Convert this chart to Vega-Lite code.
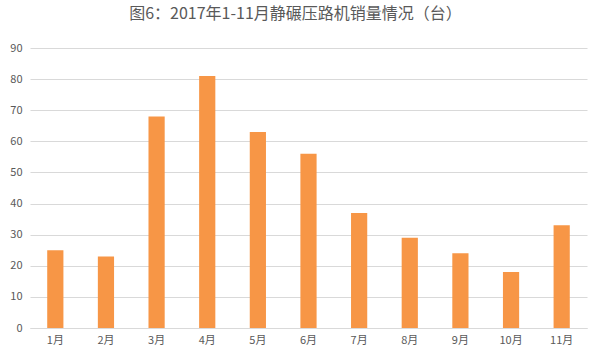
{
  "$schema": "https://vega.github.io/schema/vega-lite/v6.json",
  "autosize": "none",
  "width": 557,
  "height": 280,
  "padding": {"left": 30, "top": 48, "right": 13, "bottom": 32},
  "background": "white",
  "title": {
    "text": "图6：2017年1-11月静碾压路机销量情况（台）",
    "font": "Noto Sans CJK SC",
    "fontSize": 16,
    "fontWeight": "normal",
    "color": "#595959",
    "offset": 20,
    "dx": -13
  },
  "data": {
    "values": [
      {"month": "1月", "sales": 25},
      {"month": "2月", "sales": 23},
      {"month": "3月", "sales": 68},
      {"month": "4月", "sales": 81},
      {"month": "5月", "sales": 63},
      {"month": "6月", "sales": 56},
      {"month": "7月", "sales": 37},
      {"month": "8月", "sales": 29},
      {"month": "9月", "sales": 24},
      {"month": "10月", "sales": 18},
      {"month": "11月", "sales": 33}
    ]
  },
  "mark": {"type": "bar", "color": "#F79646"},
  "encoding": {
    "x": {
      "field": "month",
      "type": "nominal",
      "sort": null,
      "scale": {"paddingInner": 0.68, "paddingOuter": 0.34},
      "axis": {
        "title": null,
        "labelAngle": 0,
        "ticks": false,
        "domainColor": "#d9d9d9",
        "labelColor": "#595959",
        "labelFont": "Noto Sans CJK SC",
        "labelFontSize": 11,
        "labelPadding": 6
      }
    },
    "y": {
      "field": "sales",
      "type": "quantitative",
      "scale": {"domain": [0, 90]},
      "axis": {
        "title": null,
        "values": [0, 10, 20, 30, 40, 50, 60, 70, 80, 90],
        "domain": false,
        "ticks": false,
        "gridColor": "#d9d9d9",
        "labelColor": "#595959",
        "labelFont": "Noto Sans CJK SC",
        "labelFontSize": 11,
        "labelPadding": 8
      }
    }
  },
  "config": {"view": {"stroke": null}}
}
